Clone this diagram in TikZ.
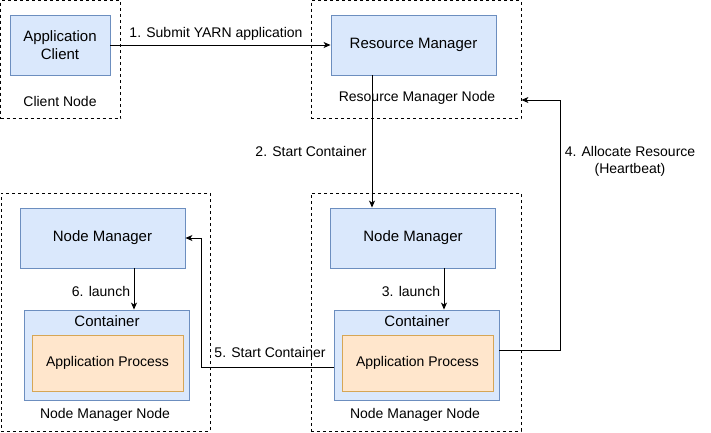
\documentclass[tikz,border=0pt]{standalone}
\usepackage{fontspec}
\setmainfont{Liberation Sans}
\usetikzlibrary{arrows.meta,positioning,calc}
\definecolor{bfill}{HTML}{DAE8FC}
\definecolor{bdraw}{HTML}{6C8EBF}
\definecolor{ofill}{HTML}{FFE6CC}
\definecolor{odraw}{HTML}{D6A656}
\tikzset{
  bluebox/.style={draw=bdraw,fill=bfill,line width=0.9pt,inner sep=0pt,align=center,font=\fontsize{15}{17.5}\selectfont},
  orangebox/.style={draw=odraw,fill=ofill,line width=0.9pt,inner sep=0pt,align=center},
  hostbox/.style={draw=black,dashed,dash pattern=on 3pt off 3pt,line width=0.8pt,inner sep=0pt},
  conn/.style={draw=black,line width=0.9pt,-{Stealth[length=7pt,width=6pt,inset=2pt]}},
  lbl/.style={inner sep=0pt,align=center},
}
\begin{document}
\begin{tikzpicture}[x=1pt,y=-1pt,font=\fontsize{14}{17}\selectfont]
\useasboundingbox (0,0) rectangle (711,432);
% host boxes
\node[hostbox,minimum width=120pt,minimum height=118pt] (CN) at (60.5,59.5) {};
\node[hostbox,minimum width=210pt,minimum height=118pt] (RMN) at (416,59.5) {};
\node[hostbox,minimum width=209pt,minimum height=238pt] (NLN) at (105.5,312) {};
\node[hostbox,minimum width=210pt,minimum height=238pt] (NRN) at (416,312) {};
% components
\node[bluebox,minimum width=100pt,minimum height=60pt] (AC) at (60,45) {Application\\Client};
\node[bluebox,minimum width=165pt,minimum height=60pt] (RM) at (413.5,45) {Resource Manager};
\node[bluebox,minimum width=165pt,minimum height=60pt] (NMR) at (413,238) {Node Manager};
\node[bluebox,minimum width=165pt,minimum height=60pt] (NML) at (102.5,238) {Node Manager};
\node[bluebox,minimum width=165pt,minimum height=90pt] (CR) at (416.5,355) {};
\node[bluebox,minimum width=165pt,minimum height=90pt] (CL) at (106.5,355) {};
\node[lbl,font=\fontsize{15}{17.5}\selectfont] (CRt) at (417,321) {Container};
\node[lbl,font=\fontsize{15}{17.5}\selectfont] (CLt) at (107,321) {Container};
\node[orangebox,minimum width=151pt,minimum height=56pt] (APR) at (417.5,363) {\raisebox{-1.5pt}{Application Process}};
\node[orangebox,minimum width=151pt,minimum height=56pt] (APL) at (107.5,363) {\raisebox{-1.5pt}{Application Process}};
% host labels
\node[lbl] (CNt) at (60,101) {Client Node};
\node[lbl] (RMNt) at (417,98) {Resource Manager Node};
\node[lbl] (NLNt) at (105,415) {Node Manager Node};
\node[lbl] (NRNt) at (415,415) {Node Manager Node};
% bend points
\coordinate (c4) at (560,100);
\coordinate (c5) at (201,238);
% connectors
\draw[conn] (AC.east) -- (RM.west);
\draw[conn] ([xshift=-41.5pt]RM.south) -- ([xshift=-41pt]NMR.north);
\draw[conn] ([xshift=31pt]NMR.south) -- ([xshift=27.5pt]CR.north);
\draw[conn] ([xshift=31.5pt]NML.south) -- ([xshift=27.5pt]CL.north);
\draw[conn] ([yshift=5pt]CR.east) -| (c4) -- (c4 -| RMN.east);
\draw[conn] ([yshift=-12pt]CR.west) -| (c5) -- (NML.east);
% connector labels
\node[lbl] (l1) at (216,34) {1. Submit YARN application};
\node[lbl] (l2) at (311,151) {2. Start Container};
\node[lbl] (l3) at (411,291) {3. launch};
\node[lbl] (l4) at (630,161) {4. Allocate Resource\\(Heartbeat)};
\node[lbl] (l5) at (270,352) {5. Start Container};
\node[lbl] (l6) at (101,291) {6. launch};
\end{tikzpicture}
\end{document}
